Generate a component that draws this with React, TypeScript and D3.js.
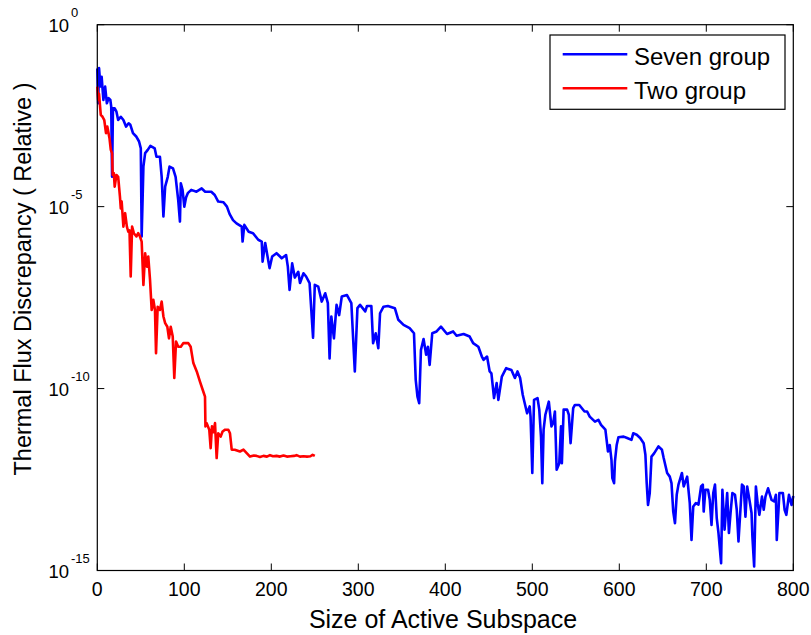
import React from "react";
import * as d3 from "d3";

// [x, log10(value)]
const sevenGroup: [number, number][] = [
  [0,-1.2],[1,-2.16],[2,-1.19],[3,-1.5],[4,-1.7],[5,-1.43],[7,-2.07],[9,-1.7],[11,-2.16],[13,-2.02],[15,-2.07],[16,-2.25],[17,-4.18],[18,-2.3],[20,-2.3],[22,-2.39],[24,-2.62],[27,-2.53],[30,-2.62],[33,-2.8],[36,-2.71],[38,-2.75],[41,-2.98],[45,-3.08],[48,-3.21],[50,-3.4],[51,-5.82],[53,-3.9],[55,-3.53],[58,-3.44],[61,-3.33],[66,-3.4],[68,-3.63],[72,-3.63],[74,-4.18],[76,-5.27],[78,-4.45],[81,-4.18],[83,-3.9],[87,-3.95],[90,-4.18],[93,-4.82],[95,-5.41],[96,-4.36],[98,-4.54],[100,-5.0],[102,-4.75],[104,-4.63],[108,-4.54],[114,-4.59],[120,-4.5],[124,-4.59],[131,-4.59],[135,-4.68],[139,-4.86],[145,-4.88],[149,-5.0],[152,-5.2],[156,-5.37],[160,-5.46],[166,-5.55],[167,-5.96],[169,-5.5],[174,-5.69],[179,-5.73],[185,-5.91],[189,-5.96],[190,-6.51],[193,-6.0],[198,-6.69],[201,-6.37],[206,-6.28],[210,-6.37],[212,-6.42],[217,-6.33],[219,-6.65],[221,-7.29],[224,-6.56],[227,-6.95],[231,-6.79],[233,-7.1],[237,-6.83],[240,-6.92],[244,-7.1],[248,-8.6],[250,-7.15],[254,-7.2],[258,-7.61],[262,-7.38],[265,-7.65],[267,-9.17],[269,-8.02],[272,-8.62],[275,-7.7],[278,-7.98],[281,-7.47],[287,-7.43],[292,-7.65],[296,-9.53],[299,-7.79],[302,-7.7],[308,-7.88],[310,-7.73],[315,-7.73],[317,-8.75],[320,-8.48],[323,-8.89],[325,-7.93],[329,-7.75],[334,-7.73],[342,-7.79],[346,-8.11],[352,-8.25],[359,-8.34],[364,-8.48],[366,-9.76],[368,-10.22],[370,-10.4],[372,-8.94],[375,-8.64],[378,-9.07],[380,-8.85],[382,-9.35],[385,-8.48],[390,-8.43],[395,-8.3],[402,-8.5],[409,-8.43],[413,-8.55],[421,-8.5],[428,-8.57],[432,-8.75],[438,-8.85],[442,-9.12],[444,-9.21],[448,-9.12],[451,-9.53],[453,-9.58],[456,-10.26],[459,-9.85],[461,-10.31],[465,-9.67],[470,-9.44],[476,-9.49],[480,-9.71],[483,-9.53],[486,-9.71],[489,-10.17],[494,-10.68],[497,-10.49],[498,-10.77],[500,-12.32],[502,-10.31],[506,-10.26],[508,-10.58],[510,-11.32],[511.5,-12.6],[513,-11.13],[515,-10.72],[519,-10.36],[522,-11.04],[524,-10.95],[526,-10.63],[528,-12.23],[531,-12.05],[533,-11.04],[534,-12.05],[536,-10.58],[540,-10.58],[542,-10.72],[544,-11.5],[547,-10.54],[549,-10.45],[554,-10.45],[557,-10.54],[560,-10.63],[563,-10.63],[566,-10.77],[572,-10.91],[576,-10.86],[579,-11.0],[584,-11.13],[587,-11.73],[589,-11.55],[591,-11.96],[592,-12.46],[594,-12.6],[595,-12.0],[597,-11.55],[599,-11.34],[605,-11.32],[609,-11.36],[614,-11.41],[616,-11.23],[620,-11.27],[624,-11.36],[628,-11.5],[630,-11.82],[631.5,-12.6],[633,-13.2],[635,-12.87],[637,-11.87],[640,-11.78],[645,-11.59],[649,-11.68],[651,-11.91],[655,-12.32],[658,-12.42],[660,-12.6],[662,-13.38],[664,-13.7],[666,-12.92],[668,-12.64],[672,-12.32],[674,-12.69],[678,-12.42],[681,-13.15],[683,-14.16],[685,-13.24],[688,-13.15],[691,-13.19],[694,-12.69],[696,-12.64],[697,-13.38],[699,-12.78],[702,-12.78],[704,-13.06],[706,-13.75],[708,-12.87],[710,-12.64],[712,-13.56],[714,-13.97],[717,-14.8],[718.5,-12.78],[721,-13.88],[722,-13.56],[724,-12.87],[726,-13.97],[728,-13.38],[730,-12.87],[733,-12.92],[735,-13.33],[737,-14.2],[741,-12.64],[743,-12.69],[745,-13.52],[747,-12.69],[749,-12.97],[752,-13.42],[753,-14.07],[755,-14.89],[757,-12.69],[759,-13.15],[761,-13.47],[764,-12.97],[766,-13.33],[768,-12.97],[771,-12.74],[775,-13.06],[778,-13.1],[780,-12.92],[781,-14.16],[783,-13.33],[784,-12.87],[788,-12.87],[790,-13.33],[792,-13.47],[795,-12.92],[798,-13.2],[800,-12.95]
];

const twoGroup: [number, number][] = [
  [0,-1.7],[1,-2.07],[2,-1.9],[4,-2.48],[6,-2.53],[8,-2.62],[10,-2.98],[11.5,-2.8],[14,-3.12],[15.5,-3.44],[17,-3.53],[17.7,-4.13],[19,-4.08],[20,-4.45],[22,-4.13],[24,-4.18],[26,-4.72],[27,-5.05],[28,-4.86],[30,-5.55],[32,-5.18],[34,-5.55],[35.6,-5.69],[37,-5.65],[38.4,-6.92],[40,-5.55],[42,-5.73],[45,-5.82],[47,-5.73],[49,-5.82],[51,-5.96],[53,-7.15],[55,-6.28],[57,-6.65],[58.6,-6.37],[60.6,-7.01],[62.5,-7.84],[64.4,-7.56],[66.3,-7.84],[67.5,-9.03],[69.4,-7.75],[72,-7.84],[74,-7.61],[76,-8.02],[78,-8.2],[80.5,-8.3],[82.4,-8.62],[84.4,-8.3],[86.7,-8.57],[88.5,-9.71],[90.5,-8.71],[93,-8.85],[96,-8.85],[99,-8.75],[104.6,-8.75],[107.3,-8.85],[110.4,-9.3],[114.3,-9.53],[118,-9.81],[121.8,-10.08],[123.8,-10.22],[124.3,-11.04],[125.7,-10.95],[128.7,-11.13],[130.3,-11.64],[131.8,-11.04],[133.5,-11.2],[135.3,-10.95],[137.2,-11.91],[139,-11.23],[141.8,-11.32],[144,-11.18],[147,-11.13],[150.6,-11.13],[152.5,-11.23],[154.5,-11.68],[158,-11.68],[164,-11.73],[168,-11.68],[172,-11.78],[175.5,-11.87],[180,-11.84],[183,-11.85],[187,-11.88],[191,-11.85],[195,-11.87],[198.5,-11.83],[202,-11.86],[206,-11.85],[210,-11.87],[214,-11.84],[218,-11.87],[222,-11.86],[226,-11.85],[229,-11.83],[233,-11.87],[237,-11.86],[241,-11.87],[245,-11.86],[247.5,-11.82],[250,-11.85]
];

const xTicks = [0, 100, 200, 300, 400, 500, 600, 700, 800];
const yTickExponents = [0, -5, -10, -15];
const seriesNames = ["Seven group", "Two group"];
const seriesColors = ["#0000ff", "#ff0000"];

const W = 811, H = 635;
const L = 97.3, R = 793.3, T = 24.7, B = 570.5;
const FONT = "Arial, 'Liberation Sans', Helvetica, sans-serif";

export default function App() {
  const x = d3.scaleLinear().domain([0, 800]).range([L, R]);
  const y = d3.scaleLog().domain([1e-15, 1]).range([B, T]);
  const line = d3.line<[number, number]>()
    .x(d => x(d[0]))
    .y(d => y(Math.pow(10, d[1])));
  const tl = 7;
  return (
    <svg width={W} height={H} style={{ position: "absolute", left: 0, top: 0, background: "#fff" }} fontFamily={FONT}>
      <rect x={0} y={0} width={W} height={H} fill="#fff" />
      <path d={line(sevenGroup) || ""} fill="none" stroke={seriesColors[0]} strokeWidth={2.6} strokeLinejoin="round" />
      <path d={line(twoGroup) || ""} fill="none" stroke={seriesColors[1]} strokeWidth={2.6} strokeLinejoin="round" />
      <rect x={L} y={T} width={R - L} height={B - T} fill="none" stroke="#000" strokeWidth={1.2} />
      {xTicks.map(t => (
        <g key={"x" + t}>
          <line x1={x(t)} x2={x(t)} y1={B} y2={B - tl} stroke="#000" strokeWidth={1} />
          <line x1={x(t)} x2={x(t)} y1={T} y2={T + tl} stroke="#000" strokeWidth={1} />
          <text x={x(t)} y={596} textAnchor="middle" fontSize={19.5} fill="#000">{t}</text>
        </g>
      ))}
      {yTickExponents.map(e => {
        const yy = y(Math.pow(10, e));
        return (
          <g key={"y" + e}>
            <line x1={L} x2={L + tl} y1={yy} y2={yy} stroke="#000" strokeWidth={1} />
            <line x1={R} x2={R - tl} y1={yy} y2={yy} stroke="#000" strokeWidth={1} />
            <text x={48.5} y={yy + 7} fontSize={18.5} fill="#000">10</text>
            <text x={71} y={yy - 7.5} fontSize={13} fill="#000">{e}</text>
          </g>
        );
      })}
      <text x={443} y={627.5} textAnchor="middle" fontSize={25} fill="#000">Size of Active Subspace</text>
      <text transform={`translate(31,279) rotate(-90)`} textAnchor="middle" fontSize={23.5} fill="#000">Thermal Flux Discrepancy ( Relative )</text>
      <rect x={550} y={35} width={235} height={74.3} fill="#fff" stroke="#000" strokeWidth={1.2} />
      {seriesNames.map((n, i) => {
        const ly = i === 0 ? 54.3 : 88.3;
        return (
          <g key={n}>
            <line x1={562.7} x2={627.3} y1={ly} y2={ly} stroke={seriesColors[i]} strokeWidth={2.6} />
            <text x={634} y={ly + 10.5} fontSize={24} fill="#000">{n}</text>
          </g>
        );
      })}
    </svg>
  );
}
